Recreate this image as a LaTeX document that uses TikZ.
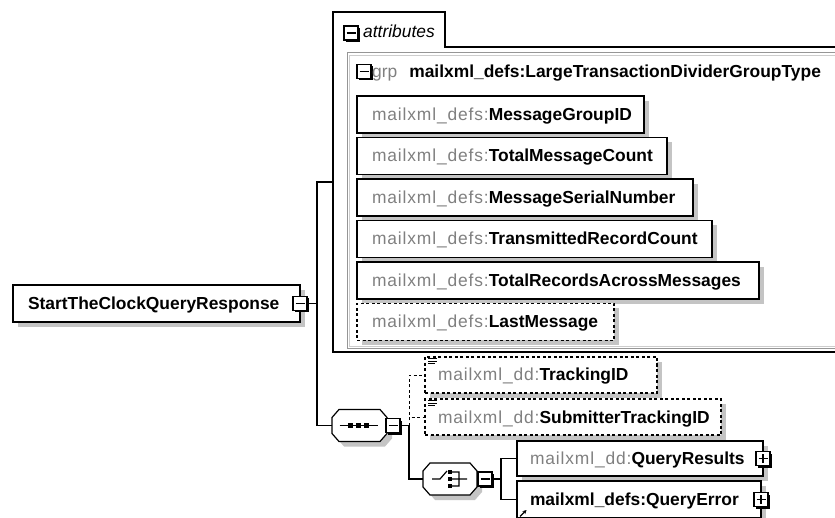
\documentclass[tikz,border=0pt]{standalone}
\usepackage{fontspec}
\setmainfont{Liberation Sans}
\usetikzlibrary{calc,shadows,arrows.meta}

\definecolor{pfx}{RGB}{128,128,128}
\definecolor{shadowgray}{RGB}{196,196,196}
\definecolor{grpline}{RGB}{150,150,150}
\definecolor{grpinner}{RGB}{205,205,205}

% qualified name: grey (slightly tracked) prefix, bold local part
\newcommand\qname[3][15pt]{\hspace*{#1}{\color{pfx}\addfontfeature{LetterSpace=5}#2:}\textbf{#3}}

% octagonal compositor outline around an invisible node
\newcommand\compositorshape[1]{%
  \draw[line width=1.2pt, fill=white,
        drop shadow={shadow xshift=5pt, shadow yshift=-5pt, fill=shadowgray, opacity=1}]
    ($(#1.north west)+(0,8)$) -- ($(#1.north west)+(7,0)$) --
    ($(#1.north east)+(-7,0)$) -- ($(#1.north east)+(0,8)$) --
    ($(#1.south east)+(0,-8)$) -- ($(#1.south east)+(-7,0)$) --
    ($(#1.south west)+(7,0)$) -- ($(#1.south west)+(0,-8)$) -- cycle;}

\tikzset{
  txt/.style={font=\fontsize{17.4}{20}\selectfont},
  elem/.style={txt, draw=black, line width=1.2pt, fill=white,
    inner xsep=0pt, inner ysep=0pt, outer sep=0pt,
    minimum height=37pt, anchor=north west, align=left,
    text height=12pt, text depth=0pt,
    drop shadow={shadow xshift=5pt, shadow yshift=-5pt, fill=shadowgray, opacity=1}},
  opt/.style={dash pattern=on 3pt off 2.5pt},
  conn/.style={line width=1.2pt},
  togglebox/.style={draw=black, fill=white, line width=1.2pt,
    minimum size=14pt, inner sep=0pt, outer sep=0pt,
    drop shadow={shadow xshift=2pt, shadow yshift=-2pt, fill=black, opacity=1}},
  minusbox/.style={togglebox, path picture={
    \draw[line width=1.2pt] (path picture bounding box.center) +(-4.5pt,0pt) -- +(4.5pt,0pt);}},
  plusbox/.style={togglebox, path picture={
    \draw[line width=1.2pt] (path picture bounding box.center) +(-4.5pt,0pt) -- +(4.5pt,0pt)
      (path picture bounding box.center) +(0pt,-4.5pt) -- +(0pt,4.5pt);}},
  comp/.style={inner sep=0pt, outer sep=0pt, minimum width=55pt, minimum height=32pt},
}

\begin{document}
\begin{tikzpicture}[x=1pt, y=-1pt]
\useasboundingbox[fill=white] (0,0) rectangle (835,518);

% ---- root element ----
\node[elem, text width=287pt] (root) at (13,285) {\hspace*{15pt}\textbf{StartTheClockQueryResponse}};
\node[minusbox] (rootc) at (root.east) {};

% ---- attributes container ----
\node[inner sep=0pt, outer sep=0pt, minimum width=512pt, minimum height=340pt, anchor=north west] (attrs) at (333,12) {};
\draw[line width=1.2pt] (845,47) -- (445,47) -- (445,12) -- (333,12) -- (333,352) -- (845,352);
\draw[grpline, line width=1pt] (845,53) -- (347,53) -- (347,349) -- (845,349);
\draw[grpinner, line width=1pt] (845,55.5) -- (349.5,55.5) -- (349.5,346.5) -- (845,346.5);
\node[minusbox] (attc) at (351,33) {};
\node[txt, anchor=base west, inner sep=0pt] (attlbl) at (363,38) {\itshape attributes};

% attribute group header
\node[minusbox] (grpc) at (364,71.5) {};
\node[txt, anchor=base west, inner sep=0pt] (grplbl) at (372,78)
  {{\color{pfx}grp}\hspace{12pt}\textbf{mailxml\_defs:LargeTransactionDividerGroupType}};

% attributes
\node[elem, text width=287pt] (mgid) at (357,96)    {\qname{mailxml\_defs}{MessageGroupID}};
\node[elem, text width=310pt] (tmc)  at (357,137.5) {\qname{mailxml\_defs}{TotalMessageCount}};
\node[elem, text width=336pt] (msn)  at (357,179)   {\qname{mailxml\_defs}{MessageSerialNumber}};
\node[elem, text width=355pt] (trc)  at (357,220.5) {\qname{mailxml\_defs}{TransmittedRecordCount}};
\node[elem, text width=402pt] (tram) at (357,262)   {\qname{mailxml\_defs}{TotalRecordsAcrossMessages}};
\node[elem, opt, text width=257pt] (last) at (357,303.5) {\qname{mailxml\_defs}{LastMessage}};

% ---- sequence compositor ----
\node[comp] (seq) at (359.5,425.5) {};
\compositorshape{seq}
\draw[line width=1.2pt] ($(seq.center)+(-20,0)$) -- ($(seq.center)+(18,0)$);
\foreach \dx in {-9,-1,7}
  \fill ($(seq.center)+(\dx-2.2,-2.2)$) rectangle ++(4.4,4.4);
\node[minusbox] (seqc) at (393,425.5) {};
\coordinate (sj) at (409,425.5);

% ---- sequence children ----
\node[elem, opt, text width=232pt, minimum height=36pt] (trk) at (425,357) {\qname[13pt]{mailxml\_dd}{TrackingID}};
\node[elem, opt, text width=296pt, minimum height=36pt] (sub) at (425,399) {\qname[13pt]{mailxml\_dd}{SubmitterTrackingID}};
\foreach \n in {trk,sub}{
  \draw[line width=0.8pt]
    ($(\n.north west)+(3,1.8)$) -- ++(9,0)
    ($(\n.north west)+(3,4.2)$) -- ++(9,0)
    ($(\n.north west)+(3,6.6)$) -- ++(7,0);
}

% ---- choice compositor ----
\node[comp, minimum width=54pt] (cho) at (450,479) {};
\compositorshape{cho}
\draw[line width=1.2pt]
  ($(cho.center)+(-18,0)$) -- ($(cho.center)+(-10,0)$) -- ($(cho.center)+(-3,-8)$)
  ($(cho.center)+(2,-7)$) -- ($(cho.center)+(9,-7)$) -- ($(cho.center)+(9,7)$) -- ($(cho.center)+(2,7)$)
  ($(cho.center)+(2,0)$) -- ($(cho.center)+(17,0)$);
\foreach \dy in {-7,0,7}
  \fill ($(cho.center)+(-2.2,\dy-2.2)$) rectangle ++(4.4,4.4);
\node[minusbox] (choc) at (485,479) {};
\coordinate (cj) at (501,479);

% ---- choice children ----
\node[elem, text width=246pt, minimum height=35pt] (qres) at (517,441) {\qname[13pt]{mailxml\_dd}{QueryResults}};
\node[elem, text width=244pt] (qerr) at (517,481) {\hspace*{13pt}\textbf{mailxml\_defs:QueryError}};
\node[plusbox] (qresx) at (qres.east) {};
\node[plusbox] (qerrx) at (qerr.east) {};
\draw[line width=1.2pt, -{Stealth[length=4pt,width=4pt]}]
  ($(qerr.south west)+(3,-1.5)$) -- ++(6.5,-6.5);

% ---- connectors ----
\coordinate (trunk) at (317,303.5);
\draw[conn] (rootc.east) -- (trunk);
\draw[conn] (attrs.west) -| (trunk) |- (seq.west);
\draw[conn] (seqc.east) -- (sj);
\draw[conn, line width=1pt, opt] (sj) |- (trk.west);
\draw[conn, line width=1pt, opt] (sj) |- (sub.west);
\draw[conn] (sj) |- (cho.west);
\draw[conn] (choc.east) -- (cj);
\draw[conn] (cj) |- (qres.west);
\draw[conn] (cj) |- (qerr.west);
\end{tikzpicture}
\end{document}
